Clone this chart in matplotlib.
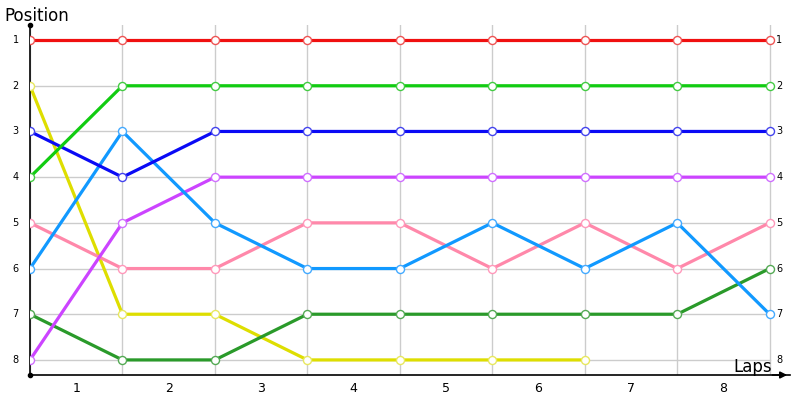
import numpy as np
import matplotlib
matplotlib.use("Agg")
import matplotlib.pyplot as plt

# datos de la carrera: posicion por vuelta (0 = salida)
vueltas = [0, 1, 2, 3, 4, 5, 6, 7, 8]
etiquetas_vueltas = ["1", "2", "3", "4", "5", "6", "7", "8"]
posiciones = [1, 2, 3, 4, 5, 6, 7, 8]

rojo = [1, 1, 1, 1, 1, 1, 1, 1, 1]
verde = [4, 2, 2, 2, 2, 2, 2, 2, 2]
azul = [3, 4, 3, 3, 3, 3, 3, 3, 3]
celeste = [6, 3, 5, 6, 6, 5, 6, 5, 7]
morado = [8, 5, 4, 4, 4, 4, 4, 4, 4]
rosa = [5, 6, 6, 5, 5, 6, 5, 6, 5]
verde_oscuro = [7, 8, 8, 7, 7, 7, 7, 7, 6]
amarillo = [2, 7, 7, 8, 8, 8, 8]

series = [
    (amarillo, "#dede00", "#e8e860"),
    (verde_oscuro, "#2a9a2a", "#55aa55"),
    (rosa, "#ff88aa", "#ff99bb"),
    (morado, "#cc44ff", "#d070ff"),
    (celeste, "#1199ff", "#44aaff"),
    (azul, "#0a0af5", "#4444ee"),
    (verde, "#11cc11", "#44cc44"),
    (rojo, "#f01010", "#ee5555"),
]

fig = plt.figure(figsize=(8, 4), dpi=100)
ax = fig.add_axes([0.0375, 0.0625, 0.95, 0.875])
ax.set_xlim(0, 8.22)
ax.set_ylim(8.33, 0.67)

# rejilla
for v in vueltas:
    ax.plot([v, v], [0.67, 8.33], color="#cccccc", lw=1, zorder=1)
for p in posiciones:
    ax.plot([0, 8], [p, p], color="#cccccc", lw=1, zorder=1)

for datos, color_linea, color_borde in series:
    xs = vueltas[:len(datos)]
    ax.plot(xs, datos, color=color_linea, lw=2.3, zorder=2)
    ax.plot(xs, datos, "o", ms=5.8, mfc="white", mec=color_borde, mew=1.0, zorder=3)

for s in ["top", "right"]:
    ax.spines[s].set_visible(False)
ax.spines["left"].set_linewidth(1.2)
ax.spines["bottom"].set_linewidth(1.2)

ax.set_xticks([])
ax.set_yticks([])
for p in posiciones:
    ax.text(-0.12, p, str(p), fontsize=7, ha="right", va="center")
    ax.text(8.07, p, str(p), fontsize=7, ha="left", va="center")
for i, lab in enumerate(etiquetas_vueltas):
    ax.text(i + 0.5, 8.62, lab, fontsize=9, ha="center", va="center")

# flecha y puntos de los ejes
ax.annotate("", xy=(8.22, 8.33), xytext=(8.0, 8.33),
            arrowprops=dict(arrowstyle="-|>", color="black", lw=1.2),
            annotation_clip=False)
ax.plot([0], [0.67], "o", color="black", ms=3, clip_on=False, zorder=5)
ax.plot([0], [8.33], "o", color="black", ms=3, clip_on=False, zorder=5)

fig.text(0.006, 0.96, "Position", fontsize=12, ha="left", va="center")
ax.text(8.02, 8.15, "Laps", fontsize=12, ha="right", va="center")

fig.savefig("out.png", dpi=100)
